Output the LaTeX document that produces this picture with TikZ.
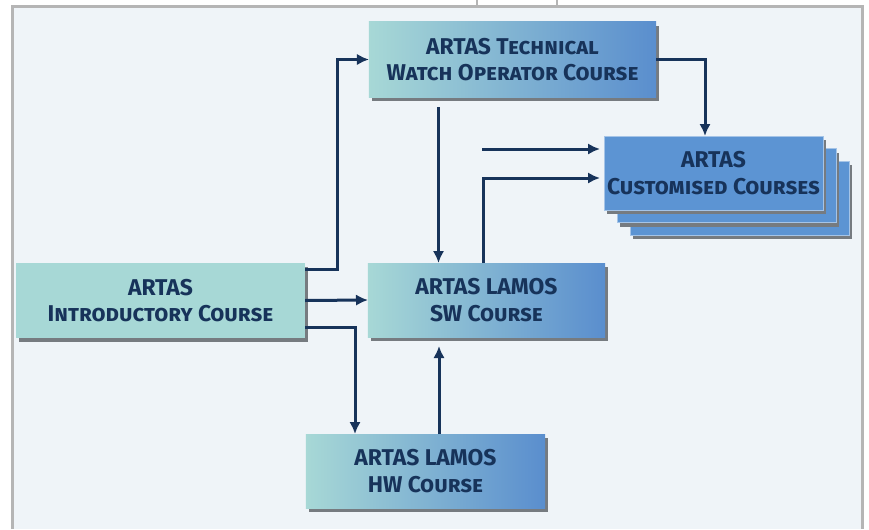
\documentclass[tikz,border=0pt]{standalone}
\usepackage{fontspec}
\setmainfont{Fira Sans}
\usetikzlibrary{shadows,calc,arrows.meta}
\definecolor{pagebg}{HTML}{EFF4F8}
\definecolor{framegray}{HTML}{B5B5B5}
\definecolor{tealbox}{HTML}{A7D8D6}
\definecolor{midbox}{HTML}{8DBFD6}
\definecolor{bluebox}{HTML}{5A8ECE}
\definecolor{custbox}{HTML}{5C94D3}
\definecolor{navy}{HTML}{17335A}
\definecolor{shadowgray}{HTML}{767B80}
\tikzset{
  course/.style={inner sep=0pt, outer sep=0pt, align=center, text=navy,
    font=\fontsize{19.5}{22.5}\selectfont\bfseries\scshape,
    drop shadow={shadow xshift=0.08cm, shadow yshift=-0.13cm, fill=shadowgray, opacity=1}},
  grad/.style={left color=tealbox, middle color=midbox, right color=bluebox},
  flat/.style={fill=tealbox},
  custom/.style={fill=custbox, draw=custbox!55!white, line width=0.6pt},
  arr/.style={draw=navy, line width=0.09cm, -{Latex[length=0.36cm,width=0.34cm]}}
}
\begin{document}
\begin{tikzpicture}[x=0.03cm,y=-0.03cm]
\useasboundingbox (0,0) rectangle (869,529);
% frame
\fill[pagebg] (12,6) rectangle (862,529);
\draw[framegray, line width=0.09cm] (12,529) -- (12,6) -- (862,6) -- (862,529);
\draw[framegray, line width=0.05cm] (477,0) -- (477,6) (557,0) -- (557,6);
% courses
\node[course, grad, minimum width=8.61cm, minimum height=2.25cm] (tech) at (512.5,59.5) {ARTAS Technical\\Watch Operator Course};
\node[course, custom, minimum width=6.57cm, minimum height=2.22cm] (cust3) at (739.5,198) {};
\node[course, custom, minimum width=6.57cm, minimum height=2.22cm] (cust2) at (726.5,185.5) {};
\node[course, custom, minimum width=6.57cm, minimum height=2.22cm] (cust) at (713.5,173) {ARTAS\\Customised Courses};
\node[course, flat, minimum width=8.67cm, minimum height=2.25cm] (intro) at (160.5,300.5) {ARTAS\\Introductory Course};
\node[course, grad, minimum width=7.11cm, minimum height=2.22cm] (sw) at (486.5,300) {ARTAS LAMOS\\SW Course};
\node[course, grad, minimum width=7.17cm, minimum height=2.22cm] (hw) at (425.5,471) {ARTAS LAMOS\\HW Course};
\coordinate (free) at (482,149);
% connectors
\draw[arr] ($(intro.north east)+(0,6)$) -| ($(tech.west)+(-31,0)$) -- (tech.west);
\draw[arr] (intro.east) -- (sw.west);
\draw[arr] ($(intro.south east)+(0,-11)$) -| ($(hw.north)+(-70.5,0)$);
\draw[arr] ($(tech.south)+(-74,10)$) -- ($(sw.north)+(-48,0)$);
\draw[arr] ($(hw.north)+(13.5,0)$) -- ($(sw.south)+(-47.5,9)$);
\draw[arr] (tech.east) -| ($(cust.north)+(-8.5,0)$);
\draw[arr] (free) -- ($(cust.west)+(-4,-24)$);
\draw[arr] ($(sw.north)+(-3.5,0)$) |- ($(cust.west)+(-4,5)$);
\end{tikzpicture}
\end{document}
